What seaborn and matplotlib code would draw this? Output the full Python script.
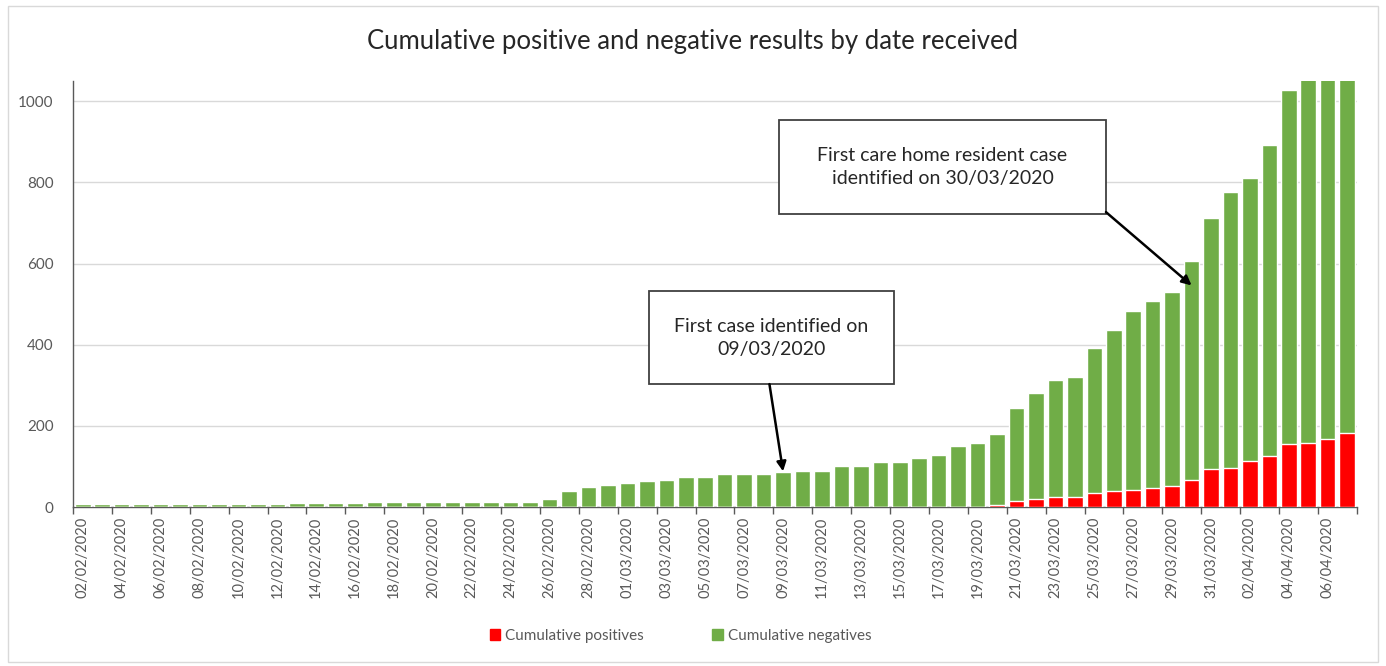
import pandas as pd
import matplotlib
matplotlib.use('Agg')
import matplotlib.pyplot as plt
import seaborn as sns
from matplotlib.patches import Patch, Rectangle

# Dates received, one bar per day (02/02/2020 - 07/04/2020)
dates = pd.date_range('2020-02-02', '2020-04-07').strftime('%d/%m/%Y').tolist()

# Cumulative positives (red)
positives = [0] * 47 + [4, 16, 21, 25, 25, 35, 39, 43, 47, 51,
                        66, 93, 97, 113, 126, 156, 159, 167, 183]

# Cumulative negatives (green)
negatives = ([7] * 11 + [10] * 4 + [12] * 9 +
             [20, 40, 50, 54, 59, 63, 66, 73, 73, 81, 81, 81, 86, 89, 89,
              100, 100, 112, 112, 121, 128, 150, 158,
              177, 228, 261, 287, 295, 357, 398, 439, 462, 480,
              541, 620, 679, 697, 767, 872, 901, 908, 907])

title = 'Cumulative positive and negative results by date received'
note_first_case = ('09/03/2020', 'First case identified on\n09/03/2020')
note_care_home = ('30/03/2020', 'First care home resident case\nidentified on 30/03/2020')

GREEN = '#70AD47'
RED = '#FF0000'
GREY = '#595959'


def note(ax, x0, x1, y0, y1, text):
    # white box with a dark outline, text centred in it
    ax.add_patch(Rectangle((x0, y0), x1 - x0, y1 - y0, fc='white',
                           ec='#404040', lw=1.3, zorder=5))
    ax.text((x0 + x1) / 2, (y0 + y1) / 2, text, ha='center', va='center',
            fontsize=14, color='#262626', linespacing=1.45, zorder=6)


def main():
    df = pd.DataFrame({'date': dates, 'pos': positives, 'neg': negatives})
    df['total'] = df['pos'] + df['neg']

    sns.set_theme(style='white')
    plt.rcParams['font.family'] = ['Lato', 'DejaVu Sans']

    fig = plt.figure(figsize=(13.86, 6.66), dpi=100)
    ax = fig.add_axes([0.0527, 0.2387, 0.9263, 0.6396])

    # stacked bars: total (green) with positives (red) drawn over the bottom
    sns.barplot(data=df, x='date', y='total', color=GREEN, saturation=1,
                width=0.8, ax=ax)
    sns.barplot(data=df, x='date', y='pos', color=RED, saturation=1,
                width=0.8, ax=ax)
    for bar in ax.patches:
        bar.set_zorder(3)

    ax.set_ylim(0, 1050)
    ax.set_xlim(-0.5, len(dates) - 0.5)
    ax.set_yticks(range(0, 1001, 200))
    ax.yaxis.grid(True, color='#D9D9D9', linewidth=1)
    ax.set_axisbelow(True)
    ax.set_xlabel('')
    ax.set_ylabel('')

    idx = list(range(0, len(dates), 2))
    ax.set_xticks(idx)
    ax.set_xticklabels([dates[i] for i in idx], rotation=90, fontsize=10.5,
                       color=GREY)
    ax.set_xticks([i - 0.5 for i in idx] + [len(dates) - 0.5], minor=True)
    ax.tick_params(axis='x', which='major', length=0, pad=7)
    ax.tick_params(axis='x', which='minor', length=5, color=GREY, width=1,
                   bottom=True)
    ax.tick_params(axis='y', length=0, labelsize=11, labelcolor=GREY, pad=14)

    for side in ['top', 'right']:
        ax.spines[side].set_visible(False)
    for side in ['left', 'bottom']:
        ax.spines[side].set_color(GREY)
        ax.spines[side].set_linewidth(1.0)

    arrow = dict(arrowstyle='-|>', color='black', lw=1.8, mutation_scale=14,
                 shrinkA=0, shrinkB=0)

    # first case note
    i1 = dates.index(note_first_case[0])
    note(ax, 29.1, 41.7, 303, 532, note_first_case[1])
    ax.annotate('', xy=(i1, df['total'][i1] + 2), xytext=(35.3, 303),
                arrowprops=arrow, zorder=7)

    # first care home case note
    i2 = dates.index(note_care_home[0])
    note(ax, 35.8, 52.6, 722, 955, note_care_home[1])
    ax.annotate('', xy=(i2, df['total'][i2] * 0.9), xytext=(52.6, 727),
                arrowprops=arrow, zorder=7)

    fig.text(0.5, 0.937, title, ha='center', va='center', fontsize=18.5,
             color='#262626')

    handles = [Patch(color=RED, label='Cumulative positives'),
               Patch(color=GREEN, label='Cumulative negatives')]
    fig.legend(handles=handles, loc='center', bbox_to_anchor=(0.491, 0.045),
               ncol=2, frameon=False, fontsize=11, handlelength=0.7,
               handleheight=0.7, handletextpad=0.3, columnspacing=4.5,
               labelcolor=GREY)

    # light chart-area border
    fig.patches.append(Rectangle((0.006, 0.006), 0.988, 0.985,
                                 transform=fig.transFigure, fill=False,
                                 ec='#D9D9D9', lw=1))

    fig.savefig('out.png', dpi=100)


if __name__ == '__main__':
    main()
